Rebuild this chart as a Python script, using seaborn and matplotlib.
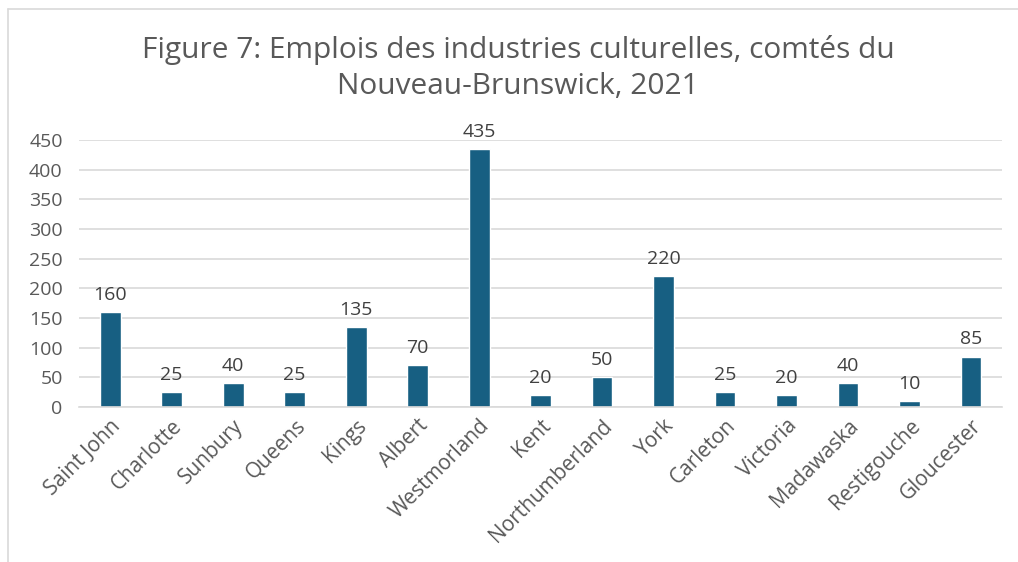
import matplotlib
matplotlib.use('Agg')
import matplotlib.pyplot as plt
import seaborn as sns
import pandas as pd
from matplotlib.lines import Line2D

# Data
counties = ['Saint John', 'Charlotte', 'Sunbury', 'Queens', 'Kings', 'Albert',
            'Westmorland', 'Kent', 'Northumberland', 'York', 'Carleton',
            'Victoria', 'Madawaska', 'Restigouche', 'Gloucester']
jobs = [160, 25, 40, 25, 135, 70, 435, 20, 50, 220, 25, 20, 40, 10, 85]
yticks = [0, 50, 100, 150, 200, 250, 300, 350, 400, 450]
title = 'Figure 7: Emplois des industries culturelles, comtés du\nNouveau-Brunswick, 2021'

df = pd.DataFrame({'county': counties, 'jobs': jobs})

sns.set_style('white')
plt.rcParams['font.family'] = ['Open Sans', 'DejaVu Sans']

fig = plt.figure(figsize=(10.18, 5.62), dpi=100)
ax = fig.add_axes([0.078, 0.2758, 0.906, 0.4751])

sns.barplot(data=df, x='county', y='jobs', color='#175F82', width=0.34,
            saturation=1, ax=ax)

for i, v in enumerate(jobs):
    ax.text(i, v + 14, str(v), ha='center', va='bottom', fontsize=14,
            color='#404040')

ax.set_ylim(0, 450)
ax.set_yticks(yticks)
ax.yaxis.grid(True, color='#D9D9D9', linewidth=1.2)
ax.set_axisbelow(True)
for s in ['top', 'right', 'left']:
    ax.spines[s].set_visible(False)
ax.spines['bottom'].set_color('#D9D9D9')
ax.spines['bottom'].set_linewidth(1.2)
ax.tick_params(axis='both', length=0, labelsize=14, labelcolor='#595959')
ax.tick_params(axis='x', labelsize=15, pad=6)
ax.tick_params(axis='y', pad=12)
ax.set_xlabel('')
ax.set_ylabel('')
plt.setp(ax.get_xticklabels(), rotation=45, ha='right', rotation_mode='anchor')

fig.text(0.509, 0.879, title, ha='center', va='center', fontsize=21.5,
         color='#595959', linespacing=1.3)

# chart frame (left and top edges)
fig.add_artist(Line2D([0.008, 0.008], [0.0, 0.984], color='#D9D9D9',
                      linewidth=1.2, transform=fig.transFigure))
fig.add_artist(Line2D([0.008, 1.0], [0.984, 0.984], color='#D9D9D9',
                      linewidth=1.2, transform=fig.transFigure))

plt.savefig('out.png', dpi=100)
